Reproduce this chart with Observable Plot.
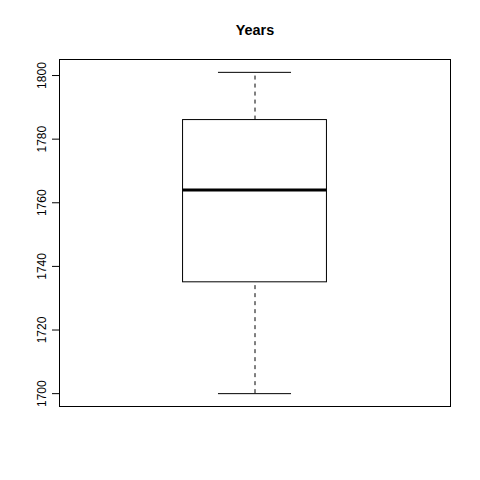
<!DOCTYPE html>
<html>
<head>
<meta charset="utf-8">
<script src="https://cdn.jsdelivr.net/npm/d3@7"></script>
<script src="https://cdn.jsdelivr.net/npm/@observablehq/plot@0.6"></script>
<style>
  html, body { margin: 0; padding: 0; background: #fff; }
  #chart svg { display: block; }
</style>
</head>
<body>
<div id="chart"></div>
<script>
// Boxplot statistics
const title = "Years";
const categories = ["Years"];
const whiskerLow = [1700];
const lowerHinge = [1735];
const medians = [1764];
const upperHinge = [1786];
const whiskerHigh = [1801];
const yTicks = [1700, 1720, 1740, 1760, 1780, 1800];

const stats = categories.map((c, i) => ({
  name: c, pos: i + 1,
  lo: whiskerLow[i], q1: lowerHinge[i], med: medians[i], q3: upperHinge[i], hi: whiskerHigh[i]
}));

// R-style axis extent: data range extended by 4%
const dMin = d3.min(whiskerLow), dMax = d3.max(whiskerHigh);
const pad = (dMax - dMin) * 0.04;
const halfBox = 0.184, halfCap = 0.0934;
const font = "'Liberation Sans', Arial, Helvetica, sans-serif";

const chart = Plot.plot({
  width: 480,
  height: 480,
  marginLeft: 59,
  marginRight: 30,
  marginTop: 59,
  marginBottom: 74,
  style: { fontFamily: font, background: "white", color: "black" },
  x: { domain: [0.5, categories.length + 0.5], axis: null },
  y: { domain: [dMin - pad, dMax + pad], axis: null },
  marks: [
    Plot.frame({ stroke: "black" }),
    // whiskers (dashed)
    Plot.ruleX(stats, { x: "pos", y1: "q3", y2: "hi", stroke: "black", strokeDasharray: "4,4" }),
    Plot.ruleX(stats, { x: "pos", y1: "lo", y2: "q1", stroke: "black", strokeDasharray: "4,4" }),
    // staples
    Plot.ruleY(stats, { y: "hi", x1: d => d.pos - halfCap, x2: d => d.pos + halfCap, stroke: "black" }),
    Plot.ruleY(stats, { y: "lo", x1: d => d.pos - halfCap, x2: d => d.pos + halfCap, stroke: "black" }),
    // box
    Plot.rect(stats, { x1: d => d.pos - halfBox, x2: d => d.pos + halfBox, y1: "q1", y2: "q3", fill: "white", stroke: "black" }),
    // median
    Plot.ruleY(stats, { y: "med", x1: d => d.pos - halfBox, x2: d => d.pos + halfBox, stroke: "black", strokeWidth: 3 }),
    // y axis ticks
    Plot.axisY({ ticks: yTicks, tickSize: 7, tickFormat: () => "", label: null, stroke: "black" }),
    Plot.ruleX([0], { x: () => 0.5, y1: d3.min(yTicks), y2: d3.max(yTicks), stroke: "black" }),
    // rotated tick labels
    Plot.text(yTicks, { y: d => d, frameAnchor: "left", dx: -17.5, rotate: -90, text: d => String(d),
      textAnchor: "middle", lineAnchor: "middle", fontSize: 12, fill: "black" }),
    // title
    Plot.text([title], { frameAnchor: "top", dy: -29, text: d => d, fontWeight: "bold", fontSize: 14.4,
      lineAnchor: "middle", fill: "black" })
  ]
});
document.getElementById("chart").append(chart);
</script>
</body>
</html>
